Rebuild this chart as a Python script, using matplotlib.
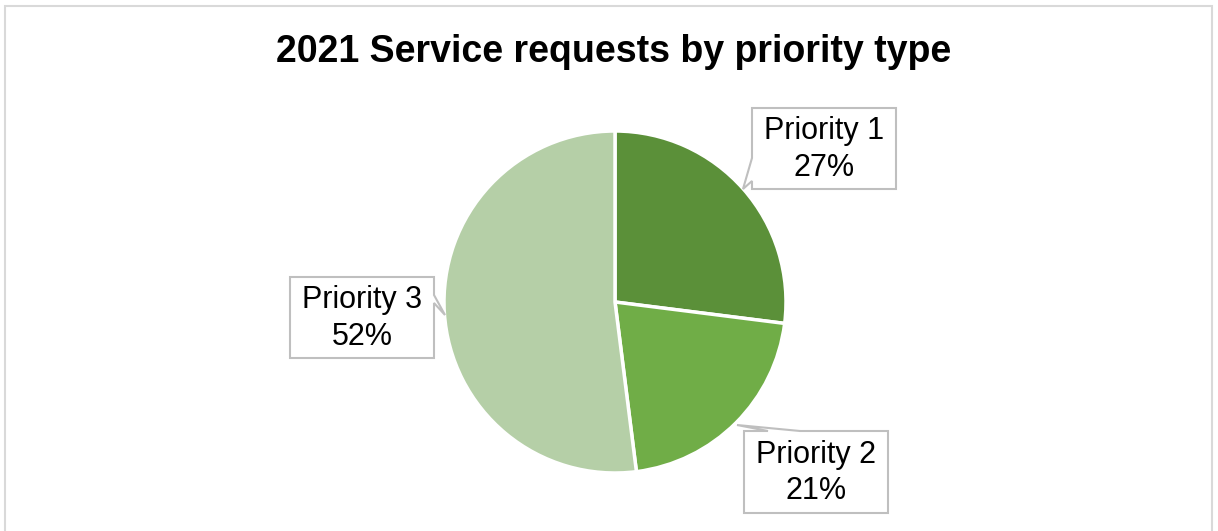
import matplotlib.pyplot as plt
from matplotlib.patches import Polygon, Rectangle

labels = ["Priority 1", "Priority 2", "Priority 3"]
shares = [27, 21, 52]
colors = ["#5B9039", "#70AD47", "#B5CFA7"]
title = "2021 Service requests by priority type"

W, H = 1218, 531

def px(x, y):
    # pixel coords measured from the top-left corner -> data coords
    return (x, H - y)

plt.rcParams['font.family'] = ['Liberation Sans', 'DejaVu Sans']

fig = plt.figure(figsize=(W / 100, H / 100), dpi=100)
ax = fig.add_axes([0, 0, 1, 1])

# chart area border
ax.add_patch(Rectangle(px(5, 540), 1207, 534, fill=False, edgecolor="#D9D9D9", lw=1.5))

ax.text(*px(614, 52), title, ha='center', va='center', fontsize=27, fontweight='bold')

ax.pie(shares, colors=colors, center=px(615, 302), radius=171, startangle=90,
       counterclock=False, wedgeprops=dict(edgecolor='white', linewidth=2.5),
       frame=True)
ax.set_xlim(0, W)
ax.set_ylim(0, H)
ax.set_aspect('equal')
ax.axis('off')

# callout boxes: box (left, top, right, bottom) and tail as (side point a, tip, side point b)
callouts = [
    ((752, 108, 896, 189), [(752, 181), (743, 189), (752, 158)], 'left'),
    ((744, 431, 888, 513), [(800, 431), (737, 425), (768, 431)], 'top'),
    ((290, 277, 434, 358), [(434, 303), (445, 315), (434, 295)], 'right'),
]

for (lab, val), (box, tail, side) in zip(zip(labels, shares), callouts):
    l, t, r, b = box
    if side == 'left':
        pts = [(l, t), (r, t), (r, b), (l, b), tail[0], tail[1], tail[2]]
    elif side == 'top':
        pts = [(l, t), tail[2], tail[1], tail[0], (r, t), (r, b), (l, b)]
    else:
        pts = [(l, t), (r, t), tail[2], tail[1], tail[0], (r, b), (l, b)]
    ax.add_patch(Polygon([px(x, y) for x, y in pts], closed=True, facecolor='white',
                         edgecolor='#BFBFBF', lw=1.5, zorder=5))
    ax.text(*px((l + r) / 2, (t + b) / 2 + 1), f"{lab}\n{val}%", ha='center', va='center',
            fontsize=22, linespacing=1.3, zorder=6)

fig.savefig("out.png", dpi=100)
